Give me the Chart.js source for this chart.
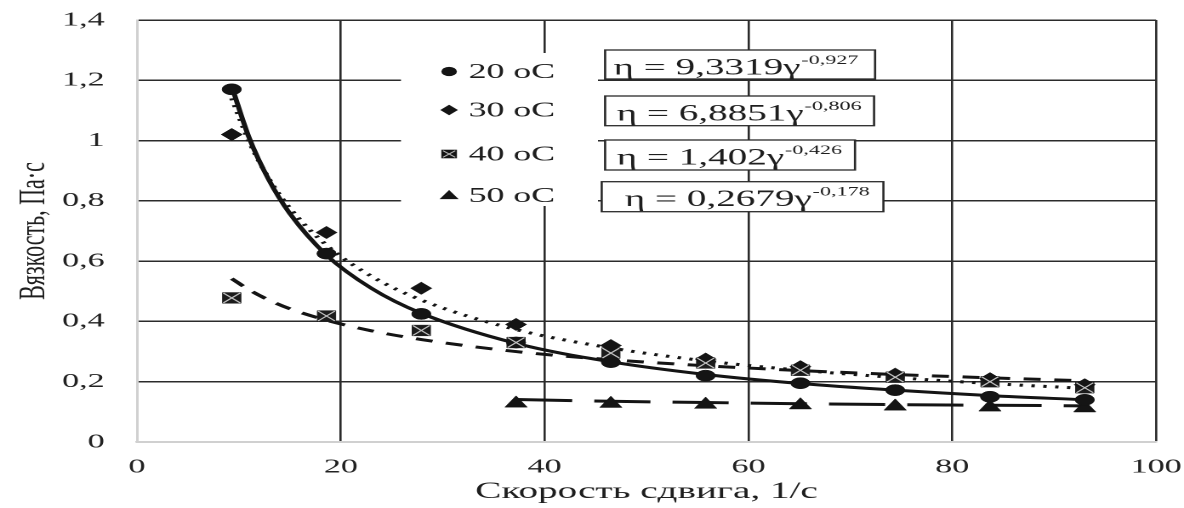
<!DOCTYPE html>
<html><head><meta charset="utf-8">
<script src="https://cdn.jsdelivr.net/npm/chart.js"></script>
<style>
html,body{margin:0;padding:0;background:#fff;overflow:hidden;}
#wrap{width:696px;height:508px;transform:scaleX(1.70115);transform-origin:0 0;}
</style></head><body>
<div id="wrap"><canvas id="c" width="696" height="508"></canvas></div>
<script>
// ---- data ----
const shearRate = [9.3, 18.6, 27.9, 37.2, 46.5, 55.8, 65.1, 74.4, 83.7, 93];
const shearRate50 = [37.2, 46.5, 55.8, 65.1, 74.4, 83.7, 93];
const visc20 = [1.17, 0.625, 0.425, 0.33, 0.265, 0.22, 0.195, 0.172, 0.15, 0.14];
const visc30 = [1.02, 0.695, 0.51, 0.39, 0.32, 0.275, 0.25, 0.225, 0.21, 0.19];
const visc40 = [0.478, 0.418, 0.37, 0.33, 0.295, 0.262, 0.238, 0.215, 0.2, 0.18];
const visc50 = [0.128, 0.127, 0.124, 0.122, 0.118, 0.115, 0.112];
// trend lines
const trendX = [9.3, 11, 13, 15, 18.6, 23, 27.9, 37.2, 46.5, 55.8, 65.1, 74.4, 83.7, 93];
const trend20 = [1.18, 1.01, 0.866, 0.758, 0.62, 0.51, 0.427, 0.327, 0.266, 0.224, 0.194, 0.172, 0.154, 0.14];
const trend30 = [1.14, 0.997, 0.871, 0.776, 0.653, 0.55, 0.471, 0.373, 0.312, 0.269, 0.238, 0.214, 0.194, 0.178];
const trend40 = [0.542, 0.505, 0.47, 0.442, 0.404, 0.369, 0.34, 0.3, 0.273, 0.253, 0.237, 0.224, 0.213, 0.203];
const trendX50 = [37.2, 46.5, 55.8, 65.1, 74.4, 83.7, 93];
const trend50 = [0.141, 0.135, 0.131, 0.127, 0.124, 0.122, 0.12];
const seriesNames = ['20 oC', '30 oC', '40 oC', '50 oC'];
const eqMain = ['η = 9,3319γ', 'η = 6,8851γ', 'η = 1,402γ', 'η = 0,2679γ'];
const eqExp = ['-0,927', '-0,806', '-0,426', '-0,178'];
const xTickLabels = ['0', '20', '40', '60', '80', '100'];
const yTickLabels = ['0', '0,2', '0,4', '0,6', '0,8', '1', '1,2', '1,4'];
const xTitle = 'Скорость сдвига, 1/с';
const yTitle = 'Вязкость, Па·с';

const pts = (xs, ys) => xs.map((x, i) => ({x: x, y: ys[i]}));
const INK = '#141414';

function lineDs(xs, ys, dash) {
  return {data: pts(xs, ys), showLine: true, pointRadius: 0, borderColor: INK, borderWidth: 3,
    borderDash: dash, tension: 0.4, cubicInterpolationMode: 'monotone', fill: false, order: 3};
}
function markDs(xs, ys, style, r, color, extra) {
  return Object.assign({data: pts(xs, ys), showLine: false, pointStyle: style, pointRadius: r,
    pointHoverRadius: r, backgroundColor: color, borderColor: color, pointBorderWidth: 0.5, order: 2}, extra || {});
}

const annot = {
  id: 'annot',
  afterDatasetsDraw(chart) {
    const g = chart.ctx;
    g.save();
    // legend area
    g.fillStyle = '#fff';
    g.fillRect(235.7, 53, 115.8, 153);
    const rows = [71.5, 110, 154, 195.5];
    const mx = 264;
    g.fillStyle = INK;
    g.beginPath(); g.arc(mx, rows[0], 4.6, 0, Math.PI * 2); g.fill();
    g.beginPath(); g.moveTo(mx - 5.2, rows[1]); g.lineTo(mx, rows[1] - 5.2); g.lineTo(mx + 5.2, rows[1]); g.lineTo(mx, rows[1] + 5.2); g.closePath(); g.fill();
    g.fillRect(mx - 4.6, rows[2] - 4.3, 9.2, 8.6);
    g.strokeStyle = '#bdbdbd'; g.lineWidth = 0.9;
    g.beginPath(); g.moveTo(mx - 3.6, rows[2] - 3.3); g.lineTo(mx + 3.6, rows[2] + 3.3);
    g.moveTo(mx + 3.6, rows[2] - 3.3); g.lineTo(mx - 3.6, rows[2] + 3.3); g.stroke();
    g.beginPath(); g.moveTo(mx, rows[3] - 5.5); g.lineTo(mx + 5.6, rows[3] + 3.6); g.lineTo(mx - 5.6, rows[3] + 3.6); g.closePath(); g.fill();
    g.fillStyle = '#1e1e1e';
    g.font = '21px "Liberation Serif"';
    g.textBaseline = 'middle';
    g.textAlign = 'left';
    seriesNames.forEach((n, i) => g.fillText(n, 275.5, rows[i] + 1));
    // equation boxes
    const boxes = [[355.7, 50, 158.7, 29], [355.7, 96, 158.1, 29.7], [355.7, 140, 146.9, 30], [353.7, 181.7, 165.6, 30]];
    const tx = [360.6, 362.5, 362.5, 367.2];
    boxes.forEach((b, i) => {
      g.fillStyle = '#fff';
      g.fillRect(b[0], b[1], b[2], b[3]);
      g.strokeStyle = '#2a2a2a'; g.lineWidth = 1.3;
      g.strokeRect(b[0], b[1], b[2], b[3]);
      g.fillStyle = '#1e1e1e';
      g.textBaseline = 'alphabetic';
      g.font = '23px "Liberation Serif"';
      const base = b[1] + 24.5;
      g.fillText(eqMain[i], tx[i], base);
      const w = g.measureText(eqMain[i]).width;
      g.font = '13px "Liberation Serif"';
      g.fillText(eqExp[i], tx[i] + w + 0.5, base - 10.5);
    });
    g.restore();
  }
};

const gridCol = (c) => (c.tick && c.tick.value === 0) ? '#d0d0d0' : '#2b2b2b';

new Chart(document.getElementById('c'), {
  type: 'scatter',
  data: {
    datasets: [
      lineDs(trendX, trend20, []),
      lineDs(trendX, trend30, [2, 5]),
      lineDs(trendX, trend40, [10, 8]),
      lineDs(trendX50, trend50, [33, 13]),
      markDs(shearRate, visc20, 'circle', 5.6, INK),
      markDs(shearRate, visc30, 'rectRot', 6.2, INK),
      markDs(shearRate, visc40, 'rect', 7.6, '#1c1c1c'),
      markDs(shearRate, visc40, 'crossRot', 7.0, '#c4c4c4', {pointBorderWidth: 1, order: 1}),
      markDs(shearRate50, visc50, 'triangle', 7.5, INK)
    ]
  },
  options: {
    responsive: false,
    animation: false,
    devicePixelRatio: 2,
    layout: {padding: {left: 0, right: 16.4, top: 20, bottom: 0}},
    plugins: {legend: {display: false}, tooltip: {enabled: false}},
    scales: {
      x: {
        type: 'linear', min: 0, max: 100,
        ticks: {stepSize: 20, padding: 13, color: '#222', font: {family: 'Liberation Serif', size: 20},
          callback: (v, i) => xTickLabels[i]},
        grid: {color: gridCol, lineWidth: 1.3, drawTicks: false},
        border: {color: '#d0d0d0', width: 1.6},
        title: {display: true, text: xTitle, color: '#1e1e1e', font: {family: 'Liberation Serif', size: 23},
          padding: {top: 0, bottom: 2.2}},
        afterFit: (s) => { s.height = 66; s.paddingLeft = 0; s.paddingRight = 0; }
      },
      y: {
        type: 'linear', min: 0, max: 1.4,
        ticks: {stepSize: 0.2, padding: 19, color: '#222', font: {family: 'Liberation Serif', size: 20},
          callback: (v, i) => yTickLabels[i]},
        grid: {color: gridCol, lineWidth: 1.5, drawTicks: false},
        border: {color: '#d0d0d0', width: 1.5},
        title: {display: true, text: yTitle, color: '#1e1e1e', font: {family: 'Liberation Serif', size: 22},
          padding: {top: 7, bottom: 0}},
        afterFit: (s) => { s.width = 80.5; s.paddingTop = 0; s.paddingBottom = 0; }
      }
    }
  },
  plugins: [annot]
});
</script>
</body></html>
